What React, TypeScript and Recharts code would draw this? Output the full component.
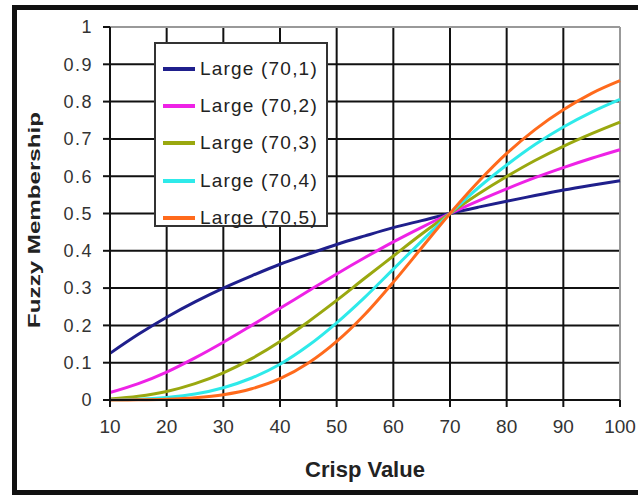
import React from 'react';
import { LineChart, Line, XAxis, YAxis, CartesianGrid, Legend, Label, ReferenceLine } from 'recharts';

// crisp values (x) and membership
const crispValues = [10, 15, 20, 25, 30, 35, 40, 45, 50, 55, 60, 65, 70, 75, 80, 85, 90, 95, 100];
const large70s1 = [0.125, 0.176, 0.222, 0.263, 0.3, 0.333, 0.364, 0.391, 0.417, 0.44, 0.462, 0.481, 0.5, 0.517, 0.533, 0.548, 0.563, 0.576, 0.588];
const large70s2 = [0.02, 0.044, 0.075, 0.113, 0.155, 0.2, 0.246, 0.292, 0.338, 0.382, 0.424, 0.463, 0.5, 0.534, 0.566, 0.596, 0.623, 0.648, 0.671];
const large70s3 = [0.003, 0.01, 0.023, 0.044, 0.073, 0.111, 0.157, 0.21, 0.267, 0.327, 0.386, 0.445, 0.5, 0.552, 0.599, 0.642, 0.68, 0.714, 0.745];
const large70s4 = [0.0004, 0.002, 0.007, 0.016, 0.033, 0.059, 0.096, 0.146, 0.207, 0.276, 0.351, 0.426, 0.5, 0.569, 0.63, 0.685, 0.732, 0.772, 0.806];
const large70s5 = [0.0001, 0.0005, 0.002, 0.006, 0.014, 0.03, 0.057, 0.099, 0.157, 0.23, 0.316, 0.408, 0.5, 0.585, 0.661, 0.725, 0.778, 0.822, 0.856];

const seriesKeys = ['s1', 's2', 's3', 's4', 's5'];
const seriesNames = ['Large (70,1)', 'Large (70,2)', 'Large (70,3)', 'Large (70,4)', 'Large (70,5)'];
const seriesColors = ['#1f1f8c', '#ee22e6', '#9aa80f', '#2eeaea', '#ff6a1c'];

const xTicks = [10, 20, 30, 40, 50, 60, 70, 80, 90, 100];
const yTicks = [0, 0.1, 0.2, 0.3, 0.4, 0.5, 0.6, 0.7, 0.8, 0.9, 1];

const data = crispValues.map((x, i) => ({
    x,
    s1: large70s1[i],
    s2: large70s2[i],
    s3: large70s3[i],
    s4: large70s4[i],
    s5: large70s5[i],
}));

const FONT = '"Liberation Sans", Arial, sans-serif';
const NARROW = '"Liberation Sans Narrow", "Arial Narrow", "Liberation Sans", sans-serif';

const LegendBox = (props: any) => {
    const payload = props.payload || [];
    return (
        <div
            style={{
                width: 174,
                height: 185,
                boxSizing: 'border-box',
                border: '2px solid #333',
                background: '#fff',
                paddingTop: 6,
            }}
        >
            {payload.map((p: any) => (
                <div key={p.value} style={{ display: 'flex', alignItems: 'center', height: 37.3 }}>
                    <div style={{ width: 32, height: 4, background: p.color, marginLeft: 7, marginRight: 5 }} />
                    <span style={{ fontFamily: FONT, fontSize: 19, color: '#222', letterSpacing: 1.2 }}>{p.value}</span>
                </div>
            ))}
        </div>
    );
};

export default function App() {
    return (
        <div style={{ position: 'absolute', left: 0, top: 0, width: 638, height: 495, background: '#fff' }}>
            <div
                style={{
                    position: 'absolute',
                    left: 12,
                    top: 5,
                    width: 626,
                    height: 490,
                    boxSizing: 'border-box',
                    borderTop: '5px solid #111',
                    borderLeft: '5px solid #111',
                    borderBottom: '5px solid #111',
                }}
            />
            <div style={{ position: 'absolute', left: 0, top: 0 }}>
                <LineChart width={638} height={495} data={data} margin={{ top: 27, right: 18, bottom: 0, left: 0 }}>
                    <CartesianGrid stroke="#111" strokeWidth={2} strokeOpacity={1} />
                    <XAxis
                        dataKey="x"
                        type="number"
                        domain={[10, 100]}
                        ticks={xTicks}
                        height={95}
                        tickSize={7}
                        tickMargin={13}
                        stroke="#111"
                        strokeWidth={2}
                        tick={{ fill: '#333', fontSize: 19, fontFamily: NARROW }}
                    >
                        <Label
                            content={() => (
                                <text x={365} y={477} textAnchor="middle" fontFamily={FONT} fontWeight="bold" fontSize={22} fill="#222">
                                    Crisp Value
                                </text>
                            )}
                        />
                    </XAxis>
                    <YAxis
                        type="number"
                        domain={[0, 1]}
                        ticks={yTicks}
                        width={110}
                        tickSize={7}
                        tickMargin={10}
                        stroke="#111"
                        strokeWidth={2}
                        tick={{ fill: '#333', fontSize: 18, fontFamily: FONT, letterSpacing: 1.5 }}
                        tickFormatter={(v: number) => String(v)}
                    >
                        <Label
                            content={() => (
                                <text
                                    transform="translate(40,220) rotate(-90) scale(1.42,1)"
                                    textAnchor="middle"
                                    fontFamily={FONT}
                                    fontWeight="bold"
                                    fontSize={17}
                                    fill="#222"
                                >
                                    Fuzzy Membership
                                </text>
                            )}
                        />
                    </YAxis>
                    <ReferenceLine y={1} stroke="#999" strokeWidth={2} />
                    <ReferenceLine x={100} stroke="#999" strokeWidth={2} />
                    {seriesKeys.map((k, i) => (
                        <Line
                            key={k}
                            dataKey={k}
                            name={seriesNames[i]}
                            type="monotone"
                            stroke={seriesColors[i]}
                            strokeWidth={3}
                            dot={false}
                            isAnimationActive={false}
                        />
                    ))}
                    <Legend
                        layout="vertical"
                        align="center"
                        verticalAlign="middle"
                        wrapperStyle={{ left: 154, top: 42, width: 174, height: 185 }}
                        content={LegendBox}
                    />
                </LineChart>
            </div>
        </div>
    );
}
